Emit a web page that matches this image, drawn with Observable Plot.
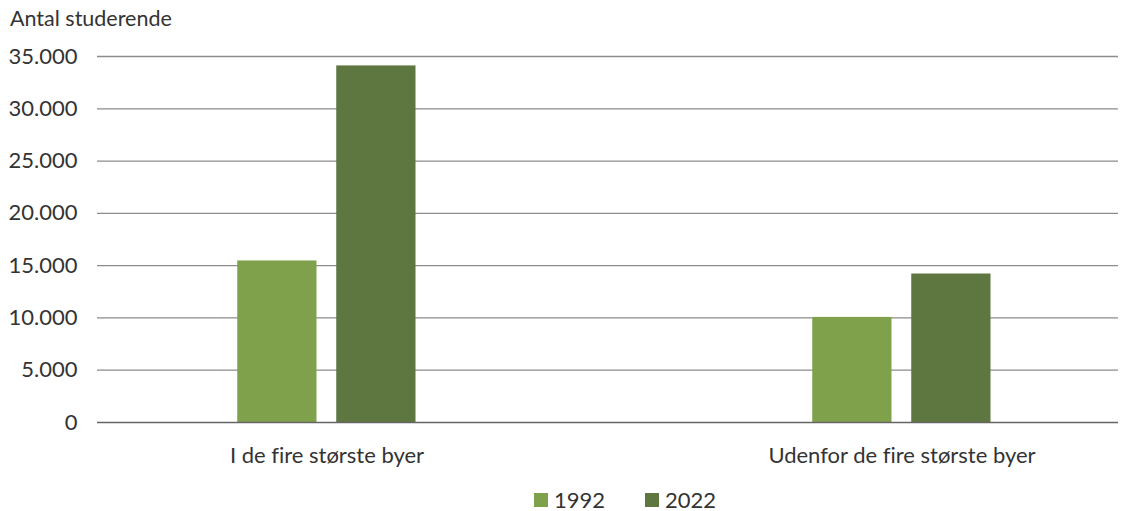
<!DOCTYPE html>
<html>
<head>
<meta charset="utf-8">
<script src="https://cdn.jsdelivr.net/npm/d3@7"></script>
<script src="https://cdn.jsdelivr.net/npm/@observablehq/plot@0.6"></script>
<style>
  html, body { margin: 0; padding: 0; background: #fff; }
  body { width: 1130px; height: 511px; position: relative; font-family: Lato, "Open Sans", sans-serif; color: #333; overflow: hidden; font-variant-ligatures: none; }
  svg text { font-variant-ligatures: none; }
  #title { position: absolute; left: 10px; top: 5px; font-size: 21.5px; color: #333; z-index: 2; }
  #chart { position: absolute; left: 0; top: 0; z-index: 1; }
  #legend { position: absolute; top: 486px; left: 0; width: 1130px; display: flex; justify-content: center; gap: 40px; font-size: 22px; padding-left: 120px; box-sizing: border-box; z-index: 2; }
  .item { display: flex; align-items: center; gap: 6px; }
  .sw { width: 14px; height: 14px; display: inline-block; }
</style>
</head>
<body>
<div id="title">Antal studerende</div>
<div id="chart"></div>
<div id="legend"></div>
<script>
const categories = ["I de fire største byer", "Udenfor de fire største byer"];
const years = ["1992", "2022"];
const values1992 = [15450, 10050];
const values2022 = [34100, 14200];
const yTicks = [0, 5000, 10000, 15000, 20000, 25000, 30000, 35000];
const colors = ["#80A14B", "#5E763F"];

const data1992 = categories.map((c, i) => ({category: c, value: values1992[i]}));
const data2022 = categories.map((c, i) => ({category: c, value: values2022[i]}));

const fmt = v => d3.format(",")(v).replace(/,/g, ".");

const chart = Plot.plot({
  width: 1130,
  height: 480,
  marginLeft: 97,
  marginRight: 12,
  marginTop: 56,
  marginBottom: 58,
  style: {fontFamily: "Lato, 'Open Sans', sans-serif", fontSize: "22px", color: "#333", background: "transparent", fontVariantLigatures: "none"},
  x: {domain: categories, range: [37.75, 1189.25], padding: 0, label: null},
  y: {domain: [0, 35000], label: null},
  marks: [
    Plot.ruleY(yTicks.filter(d => d > 0), {stroke: "#8c8c8c", strokeWidth: 1.3}),
    Plot.barY(data1992, {x: "category", y: "value", fill: colors[0], insetLeft: 198.25, insetRight: 297.5}),
    Plot.barY(data2022, {x: "category", y: "value", fill: colors[1], insetLeft: 297.25, insetRight: 198.5}),
    Plot.ruleY([0], {stroke: "#666", strokeWidth: 1.3}),
    Plot.axisY({ticks: yTicks, tickFormat: fmt, tickSize: 0, tickPadding: 20, fill: "#333", fontSize: 22}),
    Plot.axisX({tickSize: 0, tickPadding: 25, fill: "#333", fontSize: 22})
  ]
});
document.getElementById("chart").appendChild(chart);

const legend = document.getElementById("legend");
years.forEach((y, i) => {
  const item = document.createElement("div");
  item.className = "item";
  const sw = document.createElement("span");
  sw.className = "sw";
  sw.style.background = colors[i];
  const t = document.createElement("span");
  t.textContent = y;
  item.appendChild(sw);
  item.appendChild(t);
  legend.appendChild(item);
});
</script>
</body>
</html>
